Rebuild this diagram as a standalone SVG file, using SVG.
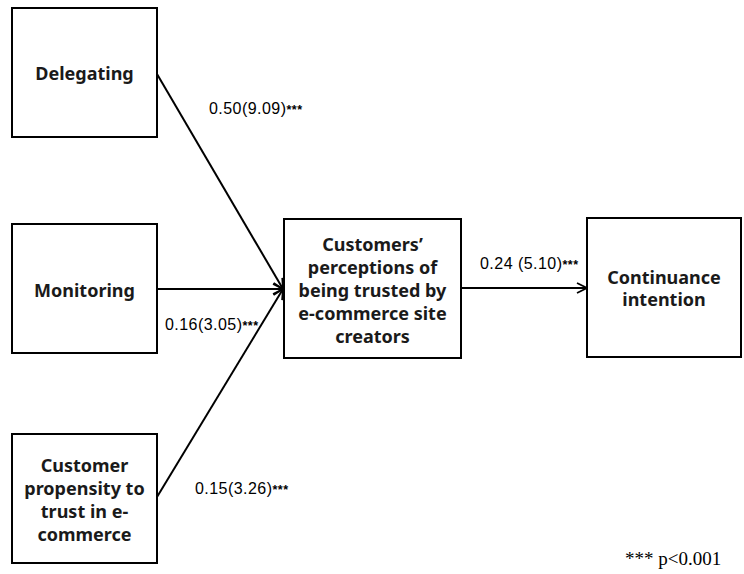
<svg xmlns="http://www.w3.org/2000/svg" width="744" height="574" viewBox="0 0 744 574">
<style>
.box{fill:#fff;stroke:#000;stroke-width:2}
.nt{font-family:"Noto Sans","Open Sans",sans-serif;font-weight:bold;font-size:18px;text-anchor:middle;fill:#1a1a1a}
.lb{font-family:"Liberation Sans",Arial,sans-serif;font-size:16px;fill:#000}
.st{font-size:12.5px;font-weight:bold}
.cn{stroke:#000;stroke-width:2;fill:none}
</style>
<defs>
<marker id="ah" viewBox="0 0 12 12" refX="11" refY="6" markerWidth="12" markerHeight="12" markerUnits="userSpaceOnUse" orient="auto">
<path d="M1,1 L11,6 L1,11" fill="none" stroke="#000" stroke-width="1.8"/>
</marker>
</defs>
<rect width="744" height="574" fill="#fff"/>
<g id="connectors">
<line class="cn" x1="157" y1="74" x2="283" y2="289" marker-end="url(#ah)"/>
<line class="cn" x1="157" y1="289" x2="283" y2="289" marker-end="url(#ah)"/>
<line class="cn" x1="157" y1="497" x2="283" y2="289" marker-end="url(#ah)"/>
<line class="cn" x1="461" y1="288" x2="587" y2="288" marker-end="url(#ah)"/>
</g>
<g id="delegating">
<rect class="box" x="12" y="8" width="145" height="129"/>
<text class="nt" x="84.5" y="80">Delegating</text>
</g>
<g id="monitoring">
<rect class="box" x="12" y="224" width="145" height="129"/>
<text class="nt" x="84.5" y="297">Monitoring</text>
</g>
<g id="propensity">
<rect class="box" x="12" y="434" width="145" height="129"/>
<text class="nt" x="84.5" y="472">Customer</text>
<text class="nt" x="84.5" y="495">propensity to</text>
<text class="nt" x="84.5" y="518">trust in e-</text>
<text class="nt" x="84.5" y="541">commerce</text>
</g>
<g id="perceptions">
<rect class="box" x="284" y="219" width="177" height="139"/>
<text class="nt" x="372.5" y="251">Customers’</text>
<text class="nt" x="372.5" y="274">perceptions of</text>
<text class="nt" x="372.5" y="297">being trusted by</text>
<text class="nt" x="372.5" y="320">e-commerce site</text>
<text class="nt" x="372.5" y="343">creators</text>
</g>
<g id="continuance">
<rect class="box" x="587" y="218" width="154" height="139"/>
<text class="nt" x="664" y="284">Continuance</text>
<text class="nt" x="664" y="306">intention</text>
</g>
<g id="labels">
<text class="lb" x="209" y="114" textLength="93">0.50(9.09)<tspan class="st">***</tspan></text>
<text class="lb" x="165" y="330" textLength="93">0.16(3.05)<tspan class="st">***</tspan></text>
<text class="lb" x="195" y="494" textLength="93">0.15(3.26)<tspan class="st">***</tspan></text>
<text class="lb" x="480" y="269" textLength="98">0.24 (5.10)<tspan class="st">***</tspan></text>
<text x="625" y="565" style="font-family:'Liberation Serif','Times New Roman',serif;font-size:19px">*** p&lt;0.001</text>
</g>
</svg>
